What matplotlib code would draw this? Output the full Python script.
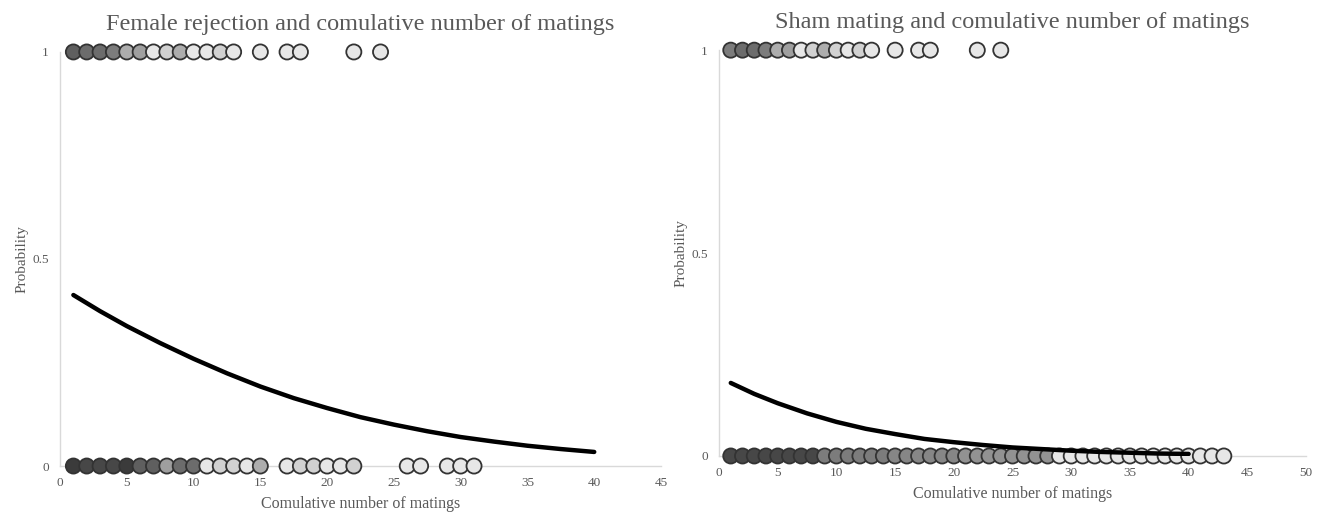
"""
Probability of female rejection / sham mating vs cumulative number of matings
"""

from matplotlib import pyplot as plt
import numpy as np

# left panel: female rejection
rej_x_yes = [1, 2, 3, 4, 5, 6, 7, 8, 9, 10, 11, 12, 13, 15, 17, 18, 22, 24]
rej_n_yes = [12, 10, 10, 8, 4, 5, 1, 2, 4, 1, 1, 2, 1, 1, 1, 1, 1, 1]
rej_x_no = [1, 2, 3, 4, 5, 6, 7, 8, 9, 10, 11, 12, 13, 14, 15,
            17, 18, 19, 20, 21, 22, 26, 27, 29, 30, 31]
rej_n_no = [25, 18, 18, 18, 25, 12, 12, 5, 10, 10, 1, 2, 2, 1, 4,
            1, 2, 2, 1, 1, 2, 1, 1, 1, 1, 1]
rej_fit_x = [1, 3, 5, 7.5, 10, 12.5, 15, 17.5, 20, 22.5, 25, 27.5, 30,
             32.5, 35, 37.5, 40]
rej_fit_p = [0.413, 0.374, 0.338, 0.297, 0.259, 0.224, 0.192, 0.164, 0.140,
             0.118, 0.100, 0.084, 0.070, 0.059, 0.049, 0.041, 0.034]

# right panel: sham mating
sham_x_yes = [1, 2, 3, 4, 5, 6, 7, 8, 9, 10, 11, 12, 13, 15, 17, 18, 22, 24]
sham_n_yes = [8, 10, 10, 8, 4, 5, 1, 2, 4, 2, 1, 2, 1, 1, 1, 1, 1, 1]
sham_x_no = list(range(1, 44))
sham_n_no = [18] * 8 + [8] * 6 + [7] * 6 + [6] * 8 + [1] * 15
sham_fit_x = [1, 3, 5, 7.5, 10, 12.5, 15, 17.5, 20, 22.5, 25, 27.5, 30,
              32.5, 35, 37.5, 40]
sham_fit_p = [0.180, 0.153, 0.130, 0.105, 0.084, 0.067, 0.054, 0.042, 0.034,
              0.027, 0.021, 0.017, 0.013, 0.010, 0.008, 0.006, 0.005]

x_ticks_left = list(range(0, 50, 5))
x_ticks_right = list(range(0, 55, 5))

plt.rcParams['font.family'] = ['Liberation Serif', 'DejaVu Serif']
GRID = '#d9d9d9'
TXT = '#595959'


def shade(n, base=0.2, a=0.12):
    # overlapping semi-transparent grey markers
    g = 1 - (1 - (1 - a) ** np.asarray(n)) * (1 - base)
    return [(v, v, v) for v in g]


def panel(ax, xy, ny, xn, nn, fx, fp, xmax, ticks, title):
    ax.scatter(xn, np.zeros(len(xn)), s=118, c=shade(nn), edgecolors='#333333',
               linewidths=1.3, clip_on=False, zorder=3)
    ax.scatter(xy, np.ones(len(xy)), s=118, c=shade(ny), edgecolors='#333333',
               linewidths=1.3, clip_on=False, zorder=3)
    ax.plot(fx, fp, color='black', lw=3.2, solid_capstyle='round', zorder=4)
    ax.set_xlim(0, xmax)
    ax.set_ylim(0, 1)
    ax.set_xticks(ticks)
    ax.set_yticks([0, 0.5, 1])
    ax.set_yticklabels(['0', '0.5', '1'])
    ax.tick_params(length=0, labelsize=9.5, colors=TXT, pad=8)
    for s in ['top', 'right']:
        ax.spines[s].set_visible(False)
    for s in ['left', 'bottom']:
        ax.spines[s].set_color(GRID)
        ax.spines[s].set_linewidth(1)
    ax.set_xlabel('Comulative number of matings', fontsize=11.5, color=TXT, labelpad=5)
    ax.set_ylabel('Probability', fontsize=11, color=TXT, labelpad=3)
    ax.set_title(title, fontsize=17.5, color=TXT, pad=16)


fig = plt.figure(figsize=(13.22, 5.15), dpi=100)
ax1 = fig.add_axes([0.0454, 0.0951, 0.4546, 0.804])
ax2 = fig.add_axes([0.5439, 0.1146, 0.444, 0.788])

panel(ax1, rej_x_yes, rej_n_yes, rej_x_no, rej_n_no, rej_fit_x, rej_fit_p,
      45, x_ticks_left, 'Female rejection and comulative number of matings')
panel(ax2, sham_x_yes, sham_n_yes, sham_x_no, sham_n_no, sham_fit_x, sham_fit_p,
      50, x_ticks_right, 'Sham mating and comulative number of matings')

fig.savefig('out.png', dpi=100)
